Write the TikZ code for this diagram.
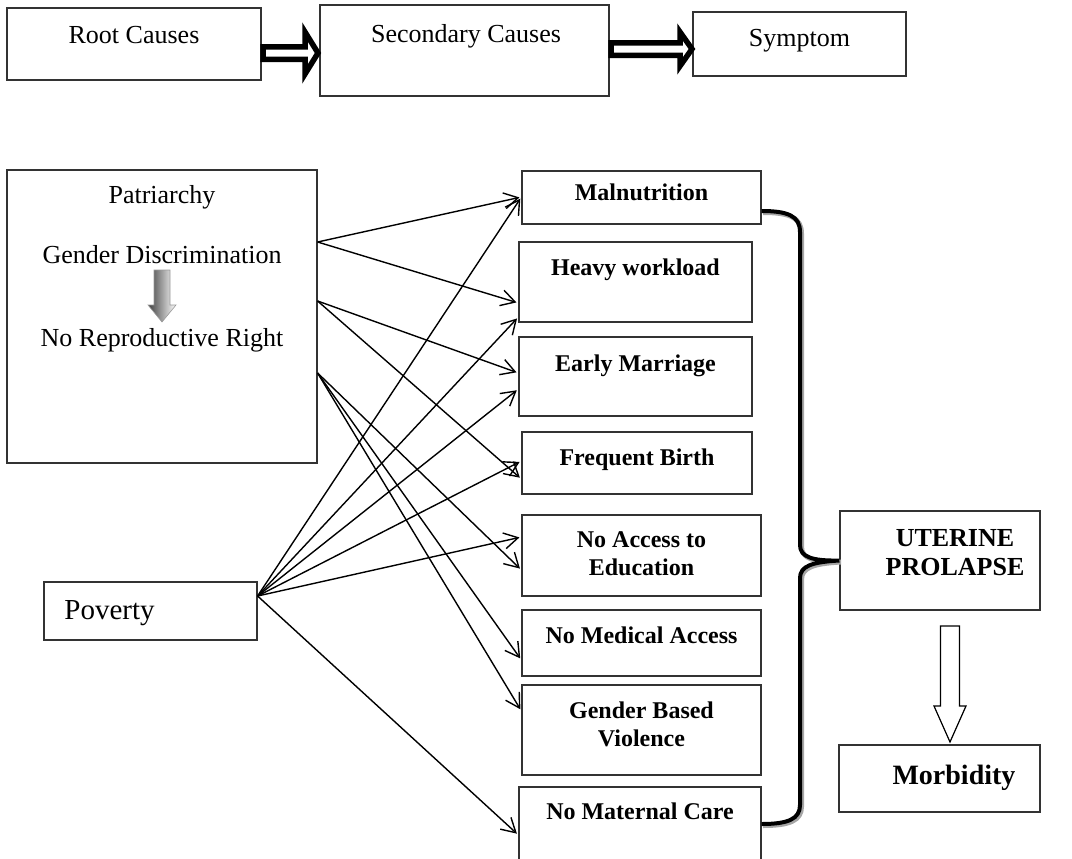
\documentclass[tikz,border=0pt]{standalone}
\usepackage{fontspec}
\setmainfont{Liberation Serif}
\usetikzlibrary{arrows.meta}
\usetikzlibrary{positioning}
\tikzset{>={Straight Barb[length=7pt,width=8pt]}}

\begin{document}
\begin{tikzpicture}[x=0.5pt, y=-0.5pt,
    box/.style={draw=black!80, line width=0.6pt, inner sep=0pt},
    sz/.style 2 args={minimum width=#1*0.5pt, minimum height=#2*0.5pt},
    plain/.style={font=\fontsize{13}{15}\selectfont, inner sep=0pt, anchor=base},
    cause/.style={font=\fontsize{12}{14}\selectfont\bfseries, inner sep=0pt, align=center},
    link/.style={->, line width=0.7pt, shorten >=1pt},
    fat/.style={draw=black, line width=2.75pt, fill=white, line join=miter},
    hollow/.style={draw=black, line width=0.6pt, fill=white}]

  \clip[use as bounding box] (0,0) rectangle (1072,858);

  % top row
  \node[box, sz={254}{72}] (root) at (134,44) {};
  \node[box, sz={289}{91}] (second) at (464.5,50.5) {};
  \node[box, sz={213}{64}] (symptom) at (799.5,44) {};
  \node[plain] (root-t) at (root |- 0,43) {Root Causes};
  \node[plain] (second-t) at (466,42) {Secondary Causes};
  \node[plain] (symptom-t) at (symptom |- 0,46) {Symptom};
  \draw[fat] (263,46.75) -- (305,46.75) -- (305,32) -- (318,53) -- (305,74) -- (305,59.25) -- (263,59.25) -- cycle;
  \draw[fat] (611,42.75) -- (680,42.75) -- (680,32) -- (692,49) -- (680,66) -- (680,55.25) -- (611,55.25) -- cycle;

  % root causes
  \node[box, sz={310}{293}] (patbox) at (162,316.5) {};
  \node[plain] (patr) at (patbox |- 0,203) {Patriarchy};
  \node[plain] (gdisc) at (patbox |- 0,263) {Gender Discrimination};
  \node[plain] (norep) at (patbox |- 0,346) {No Reproductive Right};
  \shade[left color=black!75, right color=white, draw=black!40, line width=0.3pt]
    (154,270) -- (170,270) -- (170,305) -- (176,305) -- (162,322) -- (148,305) -- (154,305) -- cycle;

  \node[box, sz={213}{58}] (poverty) at (150.5,611) {};
  \node[plain, font=\fontsize{14.5}{16}\selectfont, anchor=base west] (poverty-t) at (64,619) {Poverty};

  % secondary causes
  \node[box, sz={239}{53}] (maln) at (641.5,197.5) {};
  \node[box, sz={233}{80}] (heavy) at (635.5,282) {};
  \node[box, sz={233}{79}] (early) at (635.5,376.5) {};
  \node[box, sz={230}{62}] (freq) at (637,463) {};
  \node[box, sz={239}{81}] (noedu) at (641.5,555.5) {};
  \node[box, sz={239}{66}] (nomed) at (641.5,643) {};
  \node[box, sz={239}{90}] (gbv) at (641.5,730) {};
  \node[box, sz={242}{86}] (nomat) at (640,830) {};

  \node[cause, anchor=base] (maln-t) at (maln |- 0,200) {Malnutrition};
  \node[cause, anchor=base] (heavy-t) at (heavy |- 0,275) {Heavy workload};
  \node[cause, anchor=base] (early-t) at (early |- 0,371) {Early Marriage};
  \node[cause, anchor=base] (freq-t) at (freq |- 0,465) {Frequent Birth};
  \node[cause] (noedu-t) at (noedu |- 0,554) {No Access to\\Education};
  \node[cause, anchor=base] (nomed-t) at (nomed |- 0,643) {No Medical Access};
  \node[cause] (gbv-t) at (gbv |- 0,724) {Gender Based\\Violence};
  \node[cause, anchor=base] (nomat-t) at (nomat |- 0,819) {No Maternal Care};

  % symptom side
  \node[box, sz={200}{99}] (uterine) at (940,560.5) {};
  \node[box, sz={201}{67}] (morb) at (939.5,778.5) {};
  \node[cause, font=\fontsize{13}{14.5}\selectfont\bfseries] (uterine-t) at (955,553) {UTERINE\\PROLAPSE};
  \node[cause, font=\fontsize{14}{16}\selectfont\bfseries, anchor=base] (morb-t) at (954,784) {Morbidity};
  \draw[hollow] (940.5,626) -- (959.5,626) -- (959.5,706) -- (966,706) -- (950,742) -- (934,706) -- (940.5,706) -- cycle;

  \draw[line width=2pt, preaction={draw=black!35, line width=2.4pt, transform canvas={xshift=0.8pt, yshift=-0.8pt}}]
    (maln.east |- 0,211) .. controls (788,211) and (800,216) .. (800,232)
    -- (800,545) .. controls (800,557) and (812,561) .. (uterine.west)
    .. controls (812,562) and (800,566) .. (800,578)
    -- (800,805) .. controls (800,819) and (788,824) .. (nomat.east |- 0,824);

  % links
  \coordinate (pa) at (patbox.east |- 0,242);
  \coordinate (pb) at (patbox.east |- 0,301);
  \coordinate (pc) at (patbox.east |- 0,373);
  \coordinate (pv) at (poverty.east |- 0,596);
  \foreach \t/\y in {maln/197, heavy/303}
    \draw[link] (pa) -- (\t.west |- 0,\y);
  \foreach \t/\y in {early/373, freq/479}
    \draw[link] (pb) -- (\t.west |- 0,\y);
  \foreach \t/\y in {noedu/570, nomed/660, gbv/711}
    \draw[link] (pc) -- (\t.west |- 0,\y);
  \foreach \t/\y in {maln/197, heavy/317, early/389, freq/461, noedu/537, nomat/835}
    \draw[link] (pv) -- (\t.west |- 0,\y);
\end{tikzpicture}
\end{document}
